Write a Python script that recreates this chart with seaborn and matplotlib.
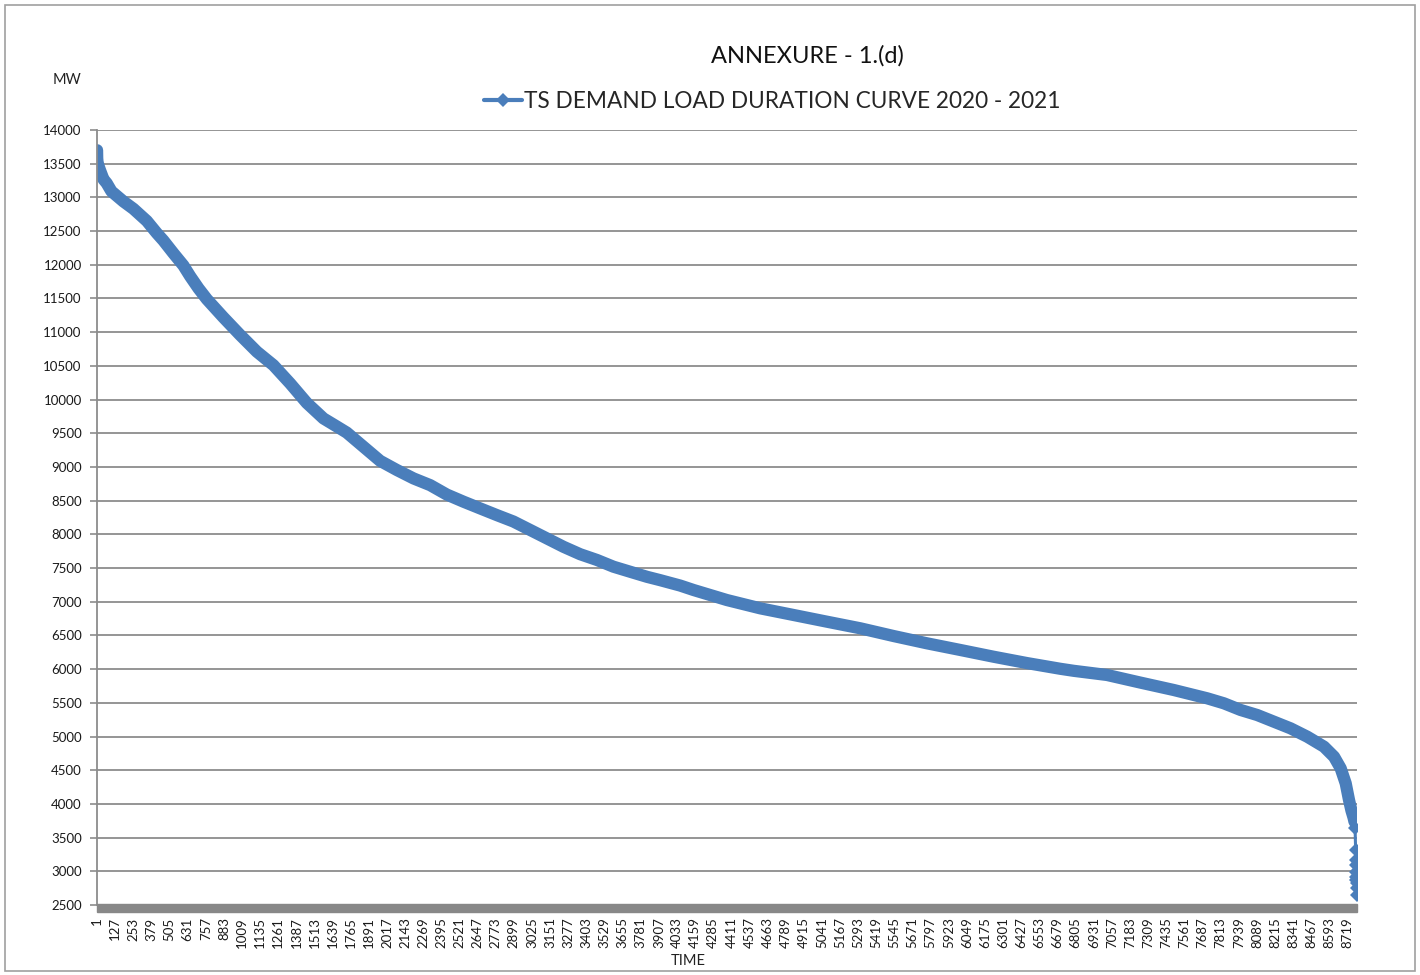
import matplotlib
matplotlib.use("Agg")
import matplotlib.pyplot as plt
import seaborn as sns
import pandas as pd
from matplotlib.patches import Rectangle
from matplotlib.lines import Line2D

# readings (hour index, MW)
hour_idx = [0, 1, 3, 8, 21, 44, 67, 100, 183, 253, 346, 415, 461, 531, 600, 647,
            705, 763, 878, 994, 1111, 1226, 1342, 1458, 1574, 1667, 1736, 1852,
            1968, 2084, 2200, 2316, 2432, 2547, 2663, 2780, 2895, 3011, 3127,
            3243, 3359, 3475, 3590, 3706, 3823, 3915, 4054, 4147, 4379, 4611,
            4843, 5074, 5306, 5538, 5770, 6002, 6233, 6465, 6697, 6790, 7022,
            7254, 7486, 7718, 7834, 7950, 8066, 8182, 8298, 8414, 8530, 8600,
            8646, 8681, 8704, 8721, 8735, 8742, 8746, 8750, 8752, 8753, 8754,
            8755, 8756, 8757, 8758, 8759]
demand_mw = [13700, 13580, 13530, 13480, 13400, 13270, 13210, 13090, 12940,
             12830, 12650, 12470, 12360, 12170, 11990, 11830, 11650, 11490,
             11220, 10960, 10710, 10510, 10240, 9950, 9720, 9600, 9510, 9300,
             9090, 8955, 8830, 8730, 8590, 8485, 8385, 8285, 8190, 8065, 7940,
             7815, 7705, 7620, 7520, 7445, 7370, 7320, 7240, 7174, 7025, 6902,
             6803, 6704, 6606, 6491, 6383, 6284, 6184, 6090, 6005, 5975, 5913,
             5800, 5690, 5567, 5493, 5394, 5319, 5220, 5121, 4997, 4849, 4700,
             4528, 4305, 4058, 3900, 3800, 3736, 3650, 3315, 3167, 3093, 2994,
             2919, 2871, 2822, 2747, 2648]

n_hours = 8760
tick_labels = [str(1 + 126 * k) for k in range(64)] + \
    ["8089", "8215", "8341", "8467", "8593", "8719"]
y_ticks = list(range(2500, 14001, 500))
series_name = "TS DEMAND LOAD DURATION CURVE 2020 - 2021"

df = pd.DataFrame({"hour": hour_idx, "mw": demand_mw})
body = df[df["mw"] >= 3700]
tail = df[df["mw"] < 3700]

blue = "#4A7EBB"
grid_gray = "#8C8C8C"

sns.set_style("white")
plt.rcParams["font.family"] = ["Lato", "DejaVu Sans"]

fig = plt.figure(figsize=(14.2, 9.75), dpi=100)
ax = fig.add_axes([97 / 1420, 1 - 905 / 975, 1260 / 1420, 775 / 975])

# dense part of the curve shows as a thick band of markers
sns.lineplot(data=body, x="hour", y="mw", ax=ax, color=blue, linewidth=8.8,
             solid_capstyle="round", solid_joinstyle="round", legend=False)
sns.lineplot(data=df, x="hour", y="mw", ax=ax, color=blue, linewidth=2.2,
             legend=False)
sns.lineplot(data=tail, x="hour", y="mw", ax=ax, color=blue, linewidth=0,
             marker="D", markersize=7.5, markeredgewidth=0, legend=False)

ax.set_xlim(-0.5, n_hours - 0.5)
ax.set_ylim(2500, 14000)
ax.set_yticks(y_ticks)
ax.set_yticklabels([str(v) for v in y_ticks], fontsize=9.5, color="#1A1A1A")
ax.set_xticks([126 * k for k in range(len(tick_labels))])
ax.set_xticklabels(tick_labels, rotation=90, fontsize=9.5, color="#1A1A1A")
ax.tick_params(axis="y", length=5, width=1.2, color=grid_gray, pad=6, direction="out", left=True)
ax.tick_params(axis="x", length=0, pad=9)
ax.set_xlabel("")
ax.set_ylabel("")

ax.grid(axis="y", color=grid_gray, linewidth=1.3)
ax.grid(axis="x", visible=False)
ax.set_axisbelow(True)
for side in ["top", "right"]:
    ax.spines[side].set_visible(False)
ax.spines["left"].set_color(grid_gray)
ax.spines["left"].set_linewidth(1.3)
ax.spines["bottom"].set_visible(False)

# the packed category tick marks form a solid grey strip under the axis
ax.add_patch(Rectangle((0, -0.0085), 1, 0.0095, transform=ax.transAxes,
                       color="#888888", clip_on=False, zorder=3))

handle = Line2D([], [], color=blue, linewidth=3, marker="D", markersize=7,
                markeredgewidth=0)
ax.legend(handles=[handle], labels=[series_name], loc="center",
          bbox_to_anchor=(772 / 1420, 1 - 101 / 975),
          bbox_transform=fig.transFigure, frameon=False, fontsize=16.3,
          numpoints=1, handlelength=1.7, handletextpad=0.05, borderpad=0)

fig.text(807 / 1420, 1 - 56 / 975, "ANNEXURE - 1.(d)", ha="center", va="center",
         fontsize=17, color="#111111")
fig.text(67 / 1420, 1 - 80 / 975, "MW", ha="center", va="center", fontsize=10.5,
         color="#222222")
fig.text(688 / 1420, 1 - 961 / 975, "TIME", ha="center", va="center", fontsize=10.5,
         color="#222222")

# outer chart border
fig.add_artist(Rectangle((5 / 1420, 4 / 975), 1410 / 1420, 966 / 975,
                         transform=fig.transFigure, fill=False,
                         edgecolor="#A0A0A0", linewidth=1.2))

plt.savefig("out.png", dpi=100)
plt.close()
